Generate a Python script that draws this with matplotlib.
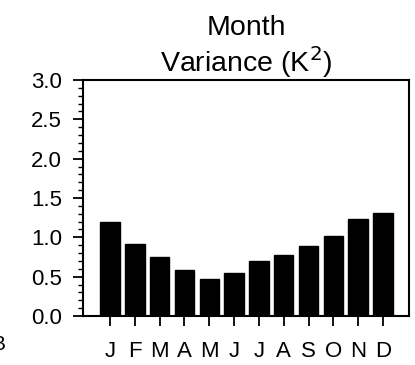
import matplotlib
matplotlib.use('Agg')
import matplotlib.pyplot as plt
from matplotlib.ticker import MultipleLocator
import numpy as np

# monthly variance values
months = ['J', 'F', 'M', 'A', 'M', 'J', 'J', 'A', 'S', 'O', 'N', 'D']
variance = [1.19, 0.92, 0.75, 0.585, 0.47, 0.545, 0.705, 0.77, 0.885, 1.02, 1.235, 1.31]

plt.rcParams['font.family'] = ['Liberation Sans', 'DejaVu Sans']

fig = plt.figure(figsize=(4.15, 3.65), dpi=100)
ax = fig.add_axes([0.2, 0.134, 0.7855, 0.647])

x = np.arange(len(months))
ax.bar(x, variance, width=0.78, color='black', edgecolor='black')

ax.set_xlim(-1.09, 12.05)
ax.set_ylim(0, 3.0)
ax.set_xticks(x)
ax.set_xticklabels(months, fontsize=16)
ax.yaxis.set_major_locator(MultipleLocator(0.5))
ax.yaxis.set_minor_locator(MultipleLocator(0.1))
ax.set_yticklabels([f'{v:.1f}' for v in ax.get_yticks()], fontsize=16)

ax.tick_params(axis='y', which='major', direction='out', length=7, width=1.3, pad=8)
ax.tick_params(axis='y', which='minor', direction='out', length=3.5, width=1.0)
ax.tick_params(axis='x', which='major', direction='out', length=7, width=1.3, pad=11)
for s in ax.spines.values():
    s.set_linewidth(1.5)

ax.set_title('Month\nVariance (K$^2$)', fontsize=20.5, pad=1, linespacing=1.1)

# panel label clipped at the figure edge
fig.text(0.012, 0.03, 'B', fontsize=15, ha='right', va='bottom')

fig.savefig('out.png', dpi=100)
